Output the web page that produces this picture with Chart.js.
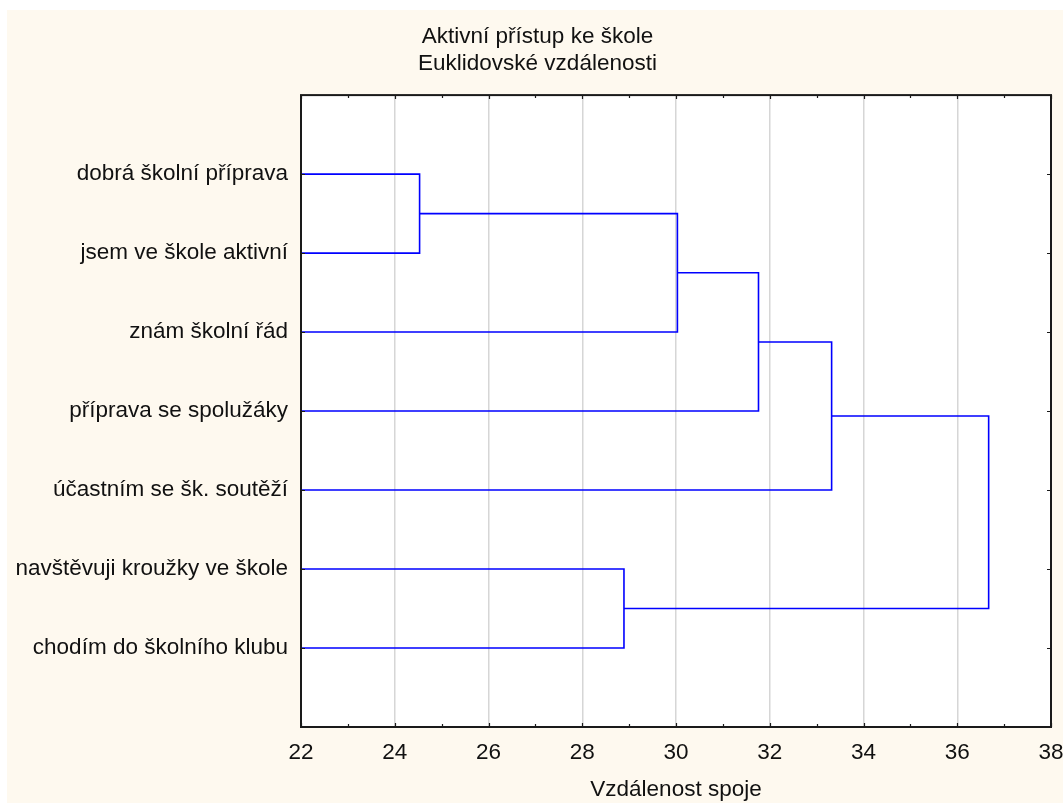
<!DOCTYPE html>
<html>
<head>
<meta charset="utf-8">
<script src="https://cdn.jsdelivr.net/npm/chart.js@4"></script>
<style>
  html, body { margin: 0; padding: 0; background: #ffffff; }
  canvas { display: block; }
</style>
</head>
<body>
<canvas id="dendroChart" width="1063" height="803"></canvas>
<script>
// Leaves, top to bottom
const leafLabels = [
    'dobrá školní příprava',
    'jsem ve škole aktivní',
    'znám školní řád',
    'příprava se spolužáky',
    'účastním se šk. soutěží',
    'navštěvuji kroužky ve škole',
    'chodím do školního klubu'
];

// Linkage steps: leaves are 0..6, each merge creates cluster 7, 8, ...
const mergeLeft = [0, 7, 8, 9, 5, 10];
const mergeRight = [1, 2, 3, 4, 6, 11];
const mergeDistance = [24.53, 30.03, 31.76, 33.32, 28.89, 36.67];

const xTicks = [22, 24, 26, 28, 30, 32, 34, 36, 38];
const leafStart = 22;

const fontFamily = '"Liberation Sans", Arial, sans-serif';
const fontSize = 22.5;
const textColor = '#111111';

// Build one U-shaped link per merge
const clusterPos = leafLabels.map((_, i) => i + 1);
const clusterHeight = leafLabels.map(() => leafStart);
const datasets = [];
mergeLeft.forEach((a, i) => {
    const b = mergeRight[i];
    const d = mergeDistance[i];
    datasets.push({
        data: [
            { x: clusterHeight[a], y: clusterPos[a] },
            { x: d, y: clusterPos[a] },
            { x: d, y: clusterPos[b] },
            { x: clusterHeight[b], y: clusterPos[b] }
        ],
        borderColor: '#0000ff',
        borderWidth: 1.6,
        pointRadius: 0,
        showLine: true,
        tension: 0,
        fill: false
    });
    clusterPos.push((clusterPos[a] + clusterPos[b]) / 2);
    clusterHeight.push(d);
});

// Background, frame and inward tick marks
const framePlugin = {
    id: 'frame',
    beforeDraw(chart) {
        const c = chart.ctx;
        const a = chart.chartArea;
        c.save();
        c.fillStyle = '#ffffff';
        c.fillRect(0, 0, chart.width, chart.height);
        c.fillStyle = '#fef9ef';
        c.fillRect(7, 10, chart.width - 7, chart.height - 10);
        c.fillStyle = '#ffffff';
        c.fillRect(a.left, a.top, a.right - a.left, a.bottom - a.top);
        c.restore();
    },
    afterDraw(chart) {
        const c = chart.ctx;
        const a = chart.chartArea;
        const xs = chart.scales.x;
        const ys = chart.scales.y;
        c.save();
        c.strokeStyle = '#1a1a1a';
        c.lineWidth = 1.2;
        c.beginPath();
        for (let v = xTicks[0]; v <= xTicks[xTicks.length - 1]; v += 1) {
            const px = Math.round(xs.getPixelForValue(v)) + 0.5;
            const len = (v % 2 === 0) ? 4 : 3;
            c.moveTo(px, a.bottom);
            c.lineTo(px, a.bottom - len);
            c.moveTo(px, a.top);
            c.lineTo(px, a.top + len);
        }
        leafLabels.forEach((_, i) => {
            const py = Math.round(ys.getPixelForValue(i + 1)) + 0.5;
            c.moveTo(a.left, py);
            c.lineTo(a.left + 4, py);
            c.moveTo(a.right, py);
            c.lineTo(a.right - 4, py);
        });
        c.stroke();
        c.lineWidth = 2;
        c.strokeRect(a.left, a.top, a.right - a.left, a.bottom - a.top);
        c.restore();
    }
};

new Chart(document.getElementById('dendroChart'), {
    type: 'scatter',
    data: { datasets: datasets },
    plugins: [framePlugin],
    options: {
        responsive: false,
        animation: false,
        layout: { padding: { left: 12, right: 0, top: 0, bottom: 0 } },
        plugins: {
            legend: { display: false },
            tooltip: { enabled: false },
            title: {
                display: true,
                text: ['Aktivní přístup ke škole', 'Euklidovské vzdálenosti'],
                color: textColor,
                font: { family: fontFamily, size: fontSize, weight: 'normal', lineHeight: 1.18 },
                padding: { top: 24, bottom: 18 }
            }
        },
        scales: {
            x: {
                type: 'linear',
                min: 22,
                max: 38,
                afterBuildTicks: (scale) => { scale.ticks = xTicks.map(v => ({ value: v })); },
                afterFit: (scale) => {
                    scale.height = 76;
                    scale.paddingRight = 12;
                },
                grid: { color: '#d6d6d6', lineWidth: 1.5, drawTicks: false },
                border: { display: false },
                ticks: {
                    color: textColor,
                    padding: 12,
                    font: { family: fontFamily, size: fontSize }
                },
                title: {
                    display: true,
                    text: 'Vzdálenost spoje',
                    color: textColor,
                    font: { family: fontFamily, size: fontSize },
                    padding: { top: 2, bottom: 0 }
                }
            },
            y: {
                type: 'linear',
                min: 0,
                max: 8,
                reverse: true,
                afterBuildTicks: (scale) => { scale.ticks = leafLabels.map((_, i) => ({ value: i + 1 })); },
                afterFit: (scale) => { scale.width = 289; },
                grid: { display: false, drawTicks: false },
                border: { display: false },
                ticks: {
                    color: textColor,
                    padding: 13,
                    font: { family: fontFamily, size: fontSize },
                    callback: (v) => leafLabels[v - 1]
                }
            }
        }
    }
});
</script>
</body>
</html>
